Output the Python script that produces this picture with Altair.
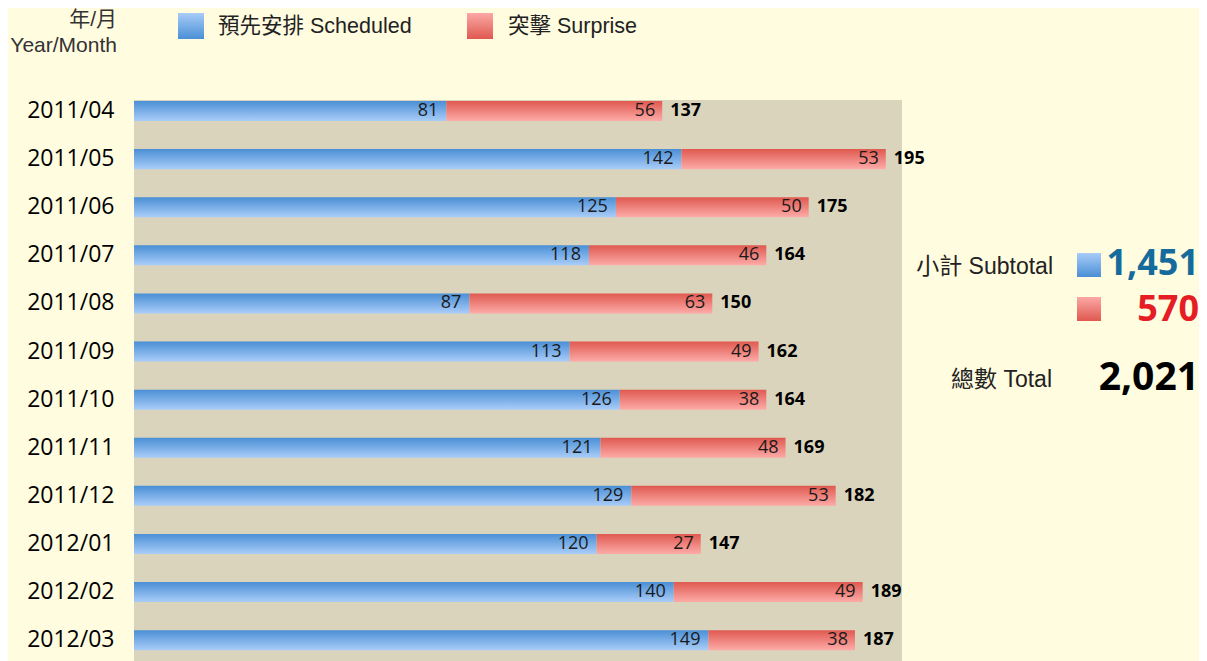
import altair as alt
import pandas as pd

months = ["2011/04", "2011/05", "2011/06", "2011/07", "2011/08", "2011/09",
          "2011/10", "2011/11", "2011/12", "2012/01", "2012/02", "2012/03"]
scheduled = [81, 142, 125, 118, 87, 113, 126, 121, 129, 120, 140, 149]
surprise = [56, 53, 50, 46, 63, 49, 38, 48, 53, 27, 49, 38]

legend_sched = "預先安排 Scheduled"
legend_surp = "突擊 Surprise"
header_cn = "年/月"
header_en = "Year/Month"
subtotal_label = "小計 Subtotal"
total_label = "總數 Total"

df = pd.DataFrame({
    "month": months,
    "scheduled": scheduled,
    "surprise": surprise,
})
df["total"] = df["scheduled"] + df["surprise"]
df["zero"] = 0

sum_sched = f"{sum(scheduled):,}"
sum_surp = f"{sum(surprise):,}"
sum_total = f"{sum(scheduled) + sum(surprise):,}"

NUM_FONT = "Open Sans"
TXT_FONT = "Liberation Sans, Noto Sans CJK TC"

blue_grad = alt.Gradient(gradient="linear", x1=0, x2=0, y1=0, y2=1,
                         stops=[alt.GradientStop(color="#4a8fd5", offset=0),
                                alt.GradientStop(color="#aacdf9", offset=1)])
red_grad = alt.Gradient(gradient="linear", x1=0, x2=0, y1=0, y2=1,
                        stops=[alt.GradientStop(color="#df5950", offset=0),
                               alt.GradientStop(color="#fdaba8", offset=1)])
blue_sw = alt.Gradient(gradient="linear", x1=0, x2=0, y1=0, y2=1,
                       stops=[alt.GradientStop(color="#a8ccf8", offset=0),
                              alt.GradientStop(color="#4a8fd5", offset=1)])
red_sw = alt.Gradient(gradient="linear", x1=0, x2=0, y1=0, y2=1,
                      stops=[alt.GradientStop(color="#fca8a6", offset=0),
                             alt.GradientStop(color="#df5950", offset=1)])

xscale = alt.Scale(domain=[0, 199.2], nice=False, zero=True)
yscale = alt.Scale(paddingInner=0.584, paddingOuter=0.175, align=0.06)

base = alt.Chart(df)
yenc = alt.Y("month:N", sort=months, scale=yscale,
             axis=alt.Axis(title=None, ticks=False, domain=False, grid=False,
                           labelFont=NUM_FONT, labelFontSize=23, labelColor="#000000",
                           labelPadding=20))

bars_blue = base.mark_bar(color=blue_grad).encode(
    x=alt.X("zero:Q", scale=xscale, axis=None), x2="scheduled:Q", y=yenc)
bars_red = base.mark_bar(color=red_grad).encode(
    x=alt.X("scheduled:Q", scale=xscale, axis=None), x2="total:Q", y=yenc)

lab_blue = base.mark_text(align="right", dx=-8, font=NUM_FONT, fontSize=18,
                          color="#1a1a1a", baseline="middle").encode(
    x=alt.X("scheduled:Q", scale=xscale), y=yenc, text="scheduled:Q")
lab_red = base.mark_text(align="right", dx=-7, font=NUM_FONT, fontSize=18,
                         color="#1a1a1a", baseline="middle").encode(
    x=alt.X("total:Q", scale=xscale), y=yenc, text="surprise:Q")
lab_tot = base.mark_text(align="left", dx=8, font=NUM_FONT, fontSize=18,
                         fontWeight="bold", color="#000000", baseline="middle").encode(
    x=alt.X("total:Q", scale=xscale), y=yenc, text="total:Q")

one = alt.Chart(pd.DataFrame({"a": [0]}))

def txt(s, x, y, size=21.5, align="left", font=TXT_FONT, weight="normal", color="#222222"):
    return one.mark_text(text=s, align=align, baseline="middle", font=font,
                         fontSize=size, fontWeight=weight, color=color).encode(
        x=alt.value(x), y=alt.value(y))

def sw(grad, x, y, s=24):
    return one.mark_rect(color=grad).encode(
        x=alt.value(x), x2=alt.value(x + s), y=alt.value(y), y2=alt.value(y + s))

annots = [
    txt(header_cn, -17, -80, size=21, align="right", color="#333333"),
    txt(header_en, -17, -54, size=21, align="right", color="#333333"),
    sw(blue_sw, 44, -87, 26),
    txt(legend_sched, 84, -73),
    sw(red_sw, 333, -87, 26),
    txt(legend_surp, 374, -73),
    txt(subtotal_label, 919, 167, size=23, align="right"),
    sw(blue_sw, 943, 153),
    txt(sum_sched, 1065, 164, size=36, align="right", font=NUM_FONT, weight="bold", color="#146b9c"),
    sw(red_sw, 943, 197),
    txt(sum_surp, 1065, 210, size=36, align="right", font=NUM_FONT, weight="bold", color="#e51d25"),
    txt(total_label, 918, 280, size=23, align="right"),
    txt(sum_total, 1065, 278, size=39, align="right", font=NUM_FONT, weight="bold", color="#000000"),
]

chart = alt.layer(bars_blue, bars_red, lab_blue, lab_red, lab_tot, *annots).properties(
    width=768, height=566,
    padding={"left": 126, "top": 92, "right": 297, "bottom": 0},
    autosize=alt.AutoSizeParams(type="none"),
    background="#fffce0",
).configure_view(fill="#dad4bc", stroke=None)

chart.save("out.html", embed_options={"renderer": "svg", "actions": False})
